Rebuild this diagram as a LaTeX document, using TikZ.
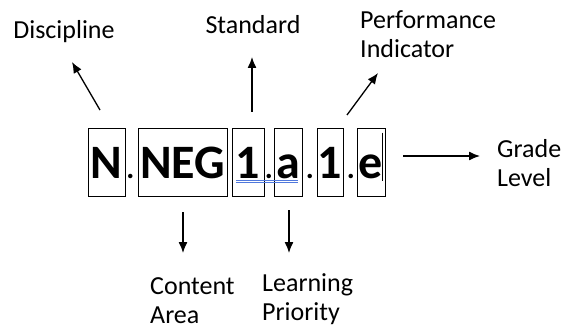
\documentclass[tikz,border=0pt]{standalone}
\usepackage{fontspec}
\setmainfont{Carlito}
\usetikzlibrary{positioning,calc,arrows.meta}

\definecolor{spellblue}{RGB}{80,120,220}

\tikzset{
  codebox/.style={draw, line width=1pt, inner sep=0pt, minimum height=68pt,
    text height=50pt, text depth=18pt, font=\fontsize{48}{48}\selectfont\bfseries},
  codedot/.style={inner sep=0pt, anchor=base, font=\fontsize{30}{30}\selectfont\bfseries},
  lbl/.style={align=left, inner sep=0pt, font=\fontsize{26}{29}\selectfont},
  pointer/.style={-{Latex[length=11pt,width=9pt]}, line width=1.3pt},
}

\begin{document}
\begin{tikzpicture}[x=1pt,y=1pt]
  \useasboundingbox (0,0) rectangle (565,330);

  % the code, one box per part
  \node[codebox, minimum width=37pt] (N)   at (106.5,168) {N};
  \node[codebox, minimum width=89pt] (NEG) at (182.5,168) {NEG};
  \node[codebox, minimum width=32pt] (std) at (248,168)   {1};
  \node[codebox, minimum width=28pt] (lp)  at (288,168)   {a};
  \node[codebox, minimum width=26pt] (pi)  at (330,168)   {1};
  \node[codebox, minimum width=28pt] (gl)  at (371,168)   {e};

  \node[codedot] (d1) at (130.5,152) {.};
  \node[codedot] (d2) at (269,152) {.};
  \node[codedot] (d3) at (310,152) {.};
  \node[codedot] (d4) at (351,152) {.};

  % spell-check underline and cursor
  \draw[spellblue, line width=0.8pt] (236,150) -- (298,150);
  \draw[spellblue, line width=0.8pt] (236,147.5) -- (298,147.5);
  \draw[line width=1.2pt] ([xshift=-3pt,yshift=-5pt]gl.north east) -- ([xshift=-3pt,yshift=16pt]gl.south east);

  % labels
  \node[lbl] (disc)  at (64,298)  {Discipline};
  \node[lbl] (stand) at (253,305) {Standard};
  \node[lbl, anchor=west] (perf)  at (360,295.5) {Performance\\Indicator};
  \node[lbl, anchor=west] (grade) at (497,167) {Grade\\Level};
  \node[lbl, anchor=west] (area)  at (150,29)  {Content\\Area};
  \node[lbl, anchor=west] (learn) at (262,31)  {Learning\\Priority};

  % arrow ends
  \coordinate (discT)  at (100,220);
  \coordinate (discH)  at (72,268);
  \coordinate (standT) at (252,218);
  \coordinate (standH) at (252,273);
  \coordinate (perfT)  at (347,215);
  \coordinate (perfH)  at (378,257);
  \coordinate (gradeT) at (403,174);
  \coordinate (gradeH) at (480,174);
  \coordinate (areaT)  at (183,118);
  \coordinate (areaH)  at (183,77);
  \coordinate (learnT) at (289,120);
  \coordinate (learnH) at (289,77);

  \draw[pointer] (discT) -- (discH);
  \draw[pointer] (standT) -- (standH);
  \draw[pointer] (perfT) -- (perfH);
  \draw[pointer] (gradeT) -- (gradeH);
  \draw[pointer] (areaT) -- (areaH);
  \draw[pointer] (learnT) -- (learnH);
\end{tikzpicture}
\end{document}
